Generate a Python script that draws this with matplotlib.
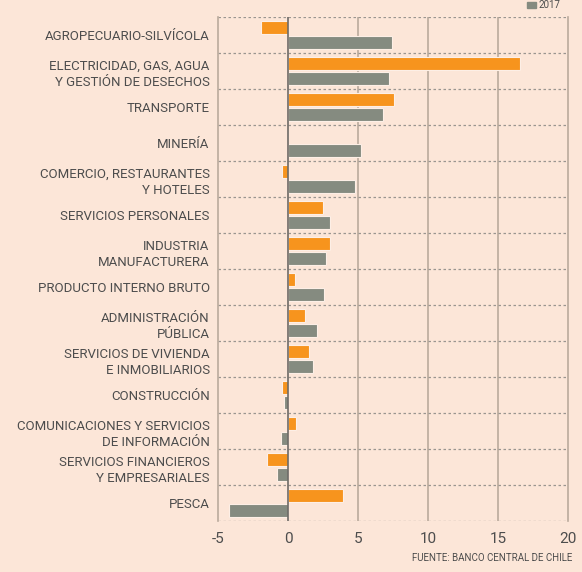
import matplotlib.pyplot as plt
import numpy as np

categories = [
    'AGROPECUARIO-SILVÍCOLA',
    'ELECTRICIDAD, GAS, AGUA\nY GESTIÓN DE DESECHOS',
    'TRANSPORTE',
    'MINERÍA',
    'COMERCIO, RESTAURANTES\nY HOTELES',
    'SERVICIOS PERSONALES',
    'INDUSTRIA\nMANUFACTURERA',
    'PRODUCTO INTERNO BRUTO',
    'ADMINISTRACIÓN\nPÚBLICA',
    'SERVICIOS DE VIVIENDA\nE INMOBILIARIOS',
    'CONSTRUCCIÓN',
    'COMUNICACIONES Y SERVICIOS\nDE INFORMACIÓN',
    'SERVICIOS FINANCIEROS\nY EMPRESARIALES',
    'PESCA',
]
orange_vals = [-1.9, 16.6, 7.6, 0.0, -0.4, 2.5, 3.0, 0.5, 1.2, 1.5, -0.4, 0.6, -1.5, 3.9]
gray_vals = [7.4, 7.2, 6.8, 5.2, 4.8, 3.0, 2.7, 2.6, 2.1, 1.8, -0.3, -0.5, -0.8, -4.2]
xticks = [-5, 0, 5, 10, 15, 20]

bg = '#FCE6D8'
orange = '#F7941D'
gray = '#858B80'
text_c = '#4D4D4D'

plt.rcParams['font.family'] = ['Roboto', 'DejaVu Sans']

fig = plt.figure(figsize=(5.82, 5.72), dpi=100, facecolor=bg)
ax = fig.add_axes([0.3746, 0.089, 0.6014, 0.881], facecolor=bg)

n = len(categories)
y = np.arange(n)
h = 0.37
ax.barh(y - 0.21, orange_vals, height=h, color=orange, edgecolor='#FDEFE6', linewidth=0.8, zorder=3)
ax.barh(y + 0.21, gray_vals, height=h, color=gray, edgecolor='#FDEFE6', linewidth=0.8, zorder=3)

ax.set_ylim(n - 0.5, -0.5)
ax.set_xlim(-5, 20)

for v in [5, 10, 15]:
    ax.axvline(v, color='#BBAA9C', lw=1.2, zorder=1)
ax.axvline(0, color='#6E6A66', lw=1.2, zorder=4)
for b in np.arange(-0.5, n, 1.0):
    ax.axhline(b, color='#9A9590', lw=0.9, ls=(0, (2, 2)), zorder=1)

for s in ['top', 'bottom']:
    ax.spines[s].set_visible(False)
for s in ['left', 'right']:
    ax.spines[s].set_color('#BBAA9C')
    ax.spines[s].set_linewidth(1.2)

ax.set_yticks(y)
ax.set_yticklabels(categories, fontsize=9.5, color=text_c, linespacing=1.3)
ax.set_xticks(xticks)
ax.set_xticklabels([str(t) for t in xticks], fontsize=11, color=text_c)
ax.tick_params(axis='both', length=0, pad=6)
ax.tick_params(axis='x', pad=8)

fig.text(0.983, 0.016, 'FUENTE: BANCO CENTRAL DE CHILE', ha='right', va='bottom',
         fontsize=7, color=text_c)

# small legend squeezed above the plot
fig.patches.append(plt.Rectangle((0.905, 0.9855), 0.016, 0.011, transform=fig.transFigure,
                                 color=gray, figure=fig))
fig.text(0.926, 0.991, '2017', ha='left', va='center', fontsize=7, color=text_c)

fig.savefig('out.png', dpi=100, facecolor=bg)
